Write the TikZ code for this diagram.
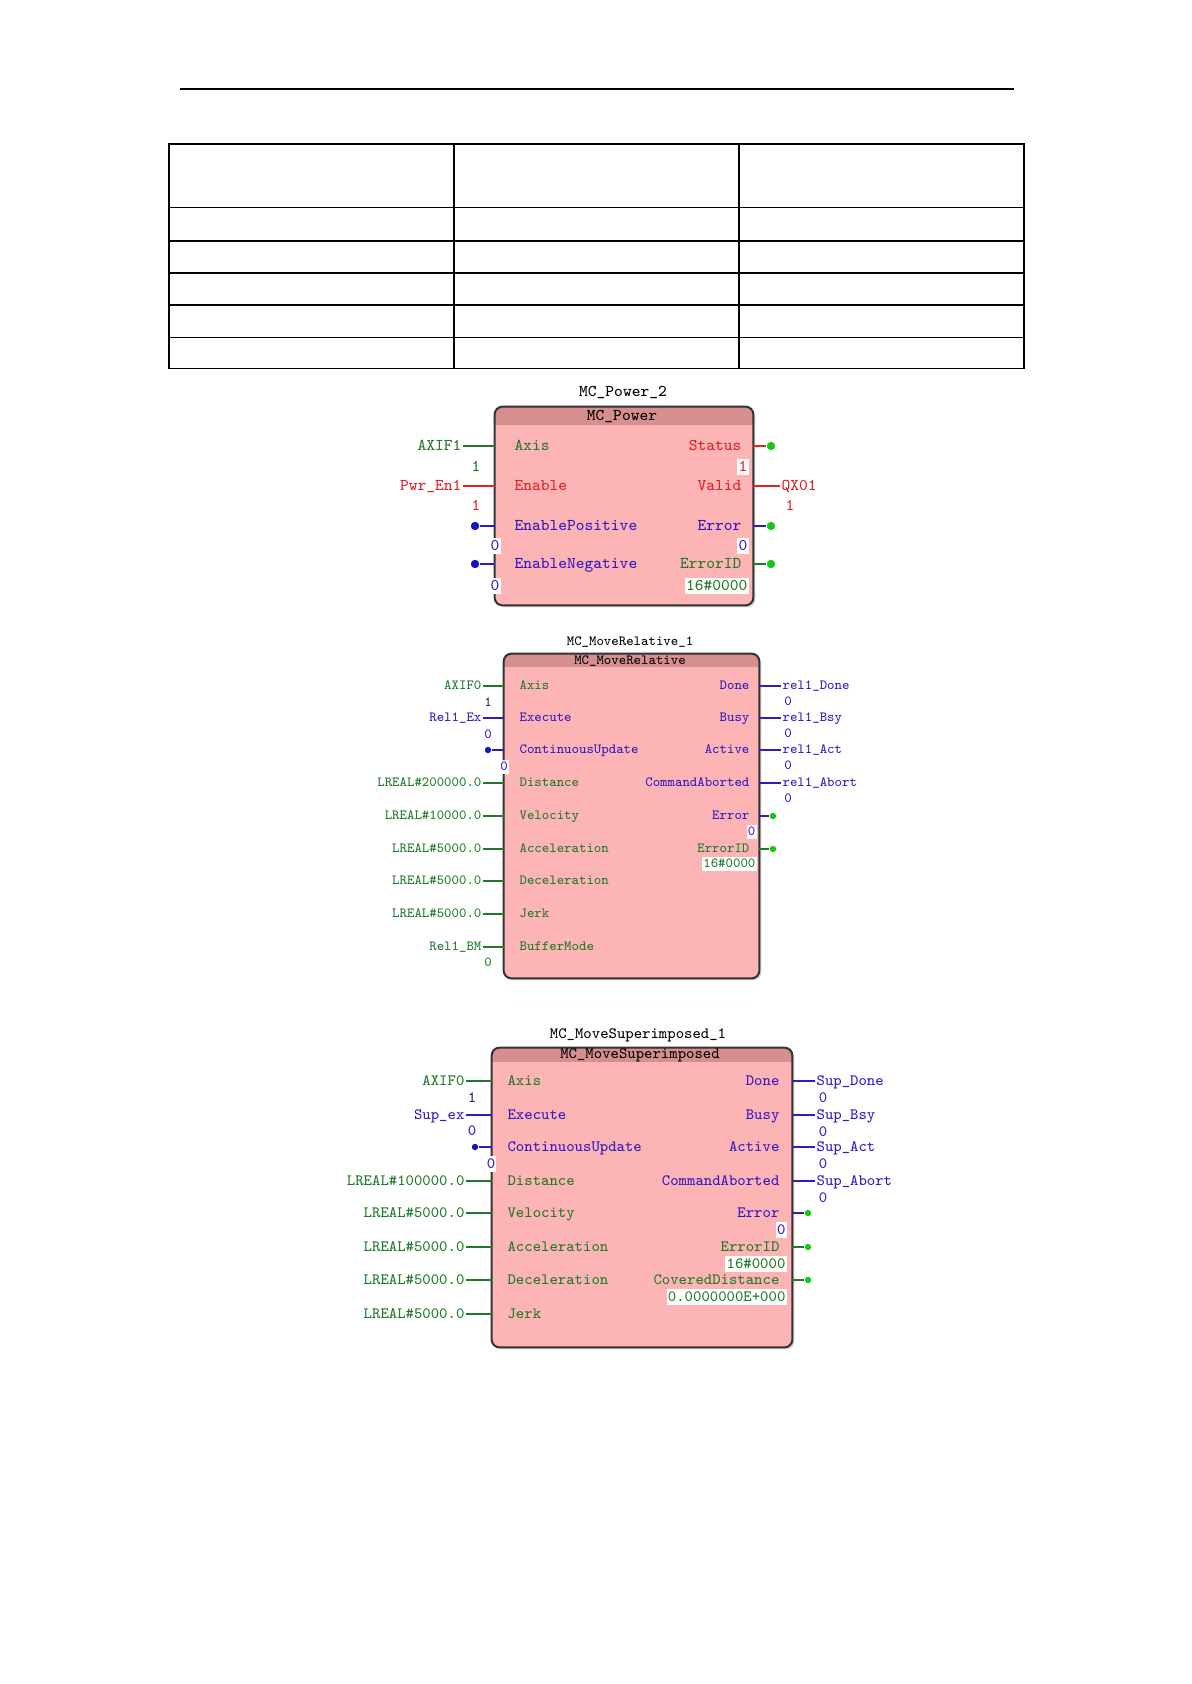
\documentclass[tikz,border=0pt]{standalone}
\usepackage{xcolor}
\usepackage{tikz}
\usetikzlibrary{fit,shadows}

\definecolor{plcpink}{RGB}{252,180,180}
\definecolor{plchead}{RGB}{214,142,142}
\definecolor{plcgreen}{RGB}{32,122,40}
\definecolor{plcred}{RGB}{222,36,40}
\definecolor{plcblue}{RGB}{52,24,196}
\definecolor{plcnavy}{RGB}{40,36,110}
\definecolor{plcdot}{RGB}{20,200,20}
\definecolor{plcbdot}{RGB}{20,20,190}

\newcommand{\pwfont}{\ttfamily\fontsize{8.25}{9}\selectfont}
\newcommand{\mrfont}{\ttfamily\fontsize{7}{8}\selectfont}
\newcommand{\msfont}{\ttfamily\fontsize{7.9}{9}\selectfont}

\tikzset{
    % page parts
    rule/.style={line width=0.8pt},
    tableline/.style={line width=0.8pt},
    % function block styles
    fbbox/.style={rectangle, fill=plcpink, rounded corners=4pt, inner sep=0pt,
        drop shadow={shadow xshift=1.2pt, shadow yshift=-1.2pt, opacity=0.35}},
    fbframe/.style={draw=black!80, line width=1pt, rounded corners=4pt},
    % text styles
    pwtxt/.style={font=\pwfont, inner sep=0.6pt, text height=5.6pt, text depth=1.5pt},
    mrtxt/.style={font=\mrfont, inner sep=0.6pt, text height=4.8pt, text depth=1.3pt},
    mstxt/.style={font=\msfont, inner sep=0.6pt, text height=5.4pt, text depth=1.4pt},
    bgval/.style={fill=white},
    % connectors
    wire/.style={line width=0.55pt},
    gdot/.style={circle, fill=plcdot, inner sep=0pt, minimum size=4.2pt},
    bdot/.style={circle, fill=plcbdot, inner sep=0pt, minimum size=4.2pt},
    gdotsm/.style={circle, fill=plcdot, inner sep=0pt, minimum size=3.2pt},
    bdotsm/.style={circle, fill=plcbdot, inner sep=0pt, minimum size=3.2pt}
}

\begin{document}
\begin{tikzpicture}[x=0.5pt, y=-0.5pt]
\useasboundingbox (0,0) rectangle (1191,1684);

% Page rule and empty table
\draw[rule] (180,89) -- (1014,89);
\draw[tableline] (169,144) rectangle (1024,368.5);
\foreach \y in {207.5,241,273,305,337.5}
    \draw[tableline] (169,\y) -- (1024,\y);
\foreach \x in {454,739}
    \draw[tableline] (\x,144) -- (\x,368.5);

% ---------------- MC_Power ----------------
\node[fbbox, fit={(495,407) (753,605)}] (pw) {};
\begin{scope}
    \clip[rounded corners=4pt] (pw.south west) rectangle (pw.north east);
    \fill[plchead] (pw.north west) rectangle (753,425);
\end{scope}
\draw[fbframe] (pw.south west) rectangle (pw.north east);
\node[pwtxt] (pwname) at (623,392) {MC\_Power\_2};
\node[pwtxt] (pwtype) at (622,416) {MC\_Power};

% pins
\foreach \n/\t/\y/\c in {Axis/Axis/446/plcgreen, En/Enable/486/plcred,
    EnP/EnablePositive/526/plcblue, EnN/EnableNegative/564/plcblue}
    \node[pwtxt, text=\c, anchor=west] (pw\n) at (513,\y) {\t};
\foreach \n/\t/\y/\c in {Stat/Status/446/plcred, Val/Valid/486/plcred,
    Err/Error/526/plcblue, ErrID/ErrorID/564/plcgreen}
    \node[pwtxt, text=\c, anchor=east] (pw\n) at (743,\y) {\t};

% inputs
\node[pwtxt, text=plcgreen, anchor=east] (pwaxif) at (463,446) {AXIF1};
\draw[wire, plcgreen] (pwaxif.east) -- (pwAxis -| pw.west);
\node[pwtxt, text=plcgreen] (pwv1) at (476,467) {1};
\node[pwtxt, text=plcred, anchor=east] (pwen1) at (463,486) {Pwr\_En1};
\draw[wire, plcred] (pwen1.east) -- (pwEn -| pw.west);
\node[pwtxt, text=plcred] (pwv2) at (476,506) {1};
\node[bdot] (pwd1) at (475,526) {};
\draw[wire, plcblue] (pwd1) -- (pwEnP -| pw.west);
\node[pwtxt, bgval, text=plcblue] (pwv3) at (495,546) {0};
\node[bdot] (pwd2) at (475,564) {};
\draw[wire, plcblue] (pwd2) -- (pwEnN -| pw.west);
\node[pwtxt, bgval, text=plcblue] (pwv4) at (495,586) {0};

% outputs
\node[gdot] (pwo1) at (771,446) {};
\draw[wire, plcred] (pwStat -| pw.east) -- (pwo1);
\node[pwtxt, bgval, text=plcred, anchor=east] (pwv5) at (749,467) {1};
\node[pwtxt, text=plcred, anchor=west] (pwqx) at (780,486) {QX01};
\draw[wire, plcred] (pwVal -| pw.east) -- (pwqx.west);
\node[pwtxt, text=plcred] (pwv6) at (790,506) {1};
\node[gdot] (pwo2) at (771,526) {};
\draw[wire, plcblue] (pwErr -| pw.east) -- (pwo2);
\node[pwtxt, bgval, text=plcblue, anchor=east] (pwv7) at (749,546) {0};
\node[gdot] (pwo3) at (771,564) {};
\draw[wire, plcgreen] (pwErrID -| pw.east) -- (pwo3);
\node[pwtxt, bgval, text=plcgreen, anchor=east] (pwv8) at (749,586) {16\#0000};

% ---------------- MC_MoveRelative ----------------
\node[fbbox, fit={(504,654) (759,978)}] (mr) {};
\begin{scope}
    \clip[rounded corners=4pt] (mr.south west) rectangle (mr.north east);
    \fill[plchead] (mr.north west) rectangle (759,667);
\end{scope}
\draw[fbframe] (mr.south west) rectangle (mr.north east);
\node[mrtxt] (mrname) at (630,642) {MC\_MoveRelative\_1};
\node[mrtxt] (mrtype) at (630,661) {MC\_MoveRelative};

% pins with input values
\foreach \n/\t/\y/\c/\v in {Axis/Axis/686/plcgreen/AXIF0, Exe/Execute/718/plcblue/Rel1\_Ex,
    Dist/Distance/783/plcgreen/LREAL\#200000.0, Vel/Velocity/816/plcgreen/LREAL\#10000.0,
    Acc/Acceleration/849/plcgreen/LREAL\#5000.0, Dec/Deceleration/881/plcgreen/LREAL\#5000.0,
    Jerk/Jerk/914/plcgreen/LREAL\#5000.0, Buf/BufferMode/947/plcgreen/Rel1\_BM}
{
    \node[mrtxt, text=\c, anchor=west] (mr\n) at (518,\y) {\t};
    \node[mrtxt, text=\c, anchor=east] (mrin\n) at (483,\y) {\v};
    \draw[wire, \c] (mrin\n.east) -- (mr\n -| mr.west);
}
\node[mrtxt, text=plcblue, anchor=west] (mrCont) at (518,750) {ContinuousUpdate};
\node[bdotsm] (mrd1) at (488,750) {};
\draw[wire, plcblue] (mrd1) -- (mrCont -| mr.west);
\node[mrtxt, text=plcnavy] (mrv1) at (488,703) {1};
\node[mrtxt, text=plcblue] (mrv2) at (488,735) {0};
\node[mrtxt, bgval, text=plcblue] (mrv3) at (504,767) {0};
\node[mrtxt, text=plcgreen] (mrv4) at (488,963) {0};

% outputs
\foreach \n/\t/\y/\v in {Done/Done/686/rel1\_Done, Busy/Busy/718/rel1\_Bsy,
    Act/Active/750/rel1\_Act, Abo/CommandAborted/783/rel1\_Abort}
{
    \node[mrtxt, text=plcblue, anchor=east] (mr\n) at (751,\y) {\t};
    \node[mrtxt, text=plcblue, anchor=west] (mrout\n) at (781,\y) {\v};
    \node[mrtxt, text=plcblue] (mrz\n) at (788,\y+16) {0};
    \draw[wire, plcblue] (mr\n -| mr.east) -- (mrout\n.west);
}
\node[mrtxt, text=plcblue, anchor=east] (mrErr) at (751,816) {Error};
\node[gdotsm] (mro1) at (773,816) {};
\draw[wire, plcblue] (mrErr -| mr.east) -- (mro1);
\node[mrtxt, bgval, text=plcblue, anchor=east] (mrv5) at (757,832) {0};
\node[mrtxt, text=plcgreen, anchor=east] (mrErrID) at (751,849) {ErrorID};
\node[gdotsm] (mro2) at (773,849) {};
\draw[wire, plcgreen] (mrErrID -| mr.east) -- (mro2);
\node[mrtxt, bgval, text=plcgreen, anchor=east] (mrv6) at (757,864) {16\#0000};

% ---------------- MC_MoveSuperimposed ----------------
\node[fbbox, fit={(492,1048) (792,1347)}] (ms) {};
\begin{scope}
    \clip[rounded corners=4pt] (ms.south west) rectangle (ms.north east);
    \fill[plchead] (ms.north west) rectangle (792,1062);
\end{scope}
\draw[fbframe] (ms.south west) rectangle (ms.north east);
\node[mstxt] (msname) at (638,1034) {MC\_MoveSuperimposed\_1};
\node[mstxt] (mstype) at (640,1054) {MC\_MoveSuperimposed};

% pins with input values
\foreach \n/\t/\y/\c/\v in {Axis/Axis/1081/plcgreen/AXIF0, Exe/Execute/1115/plcblue/Sup\_ex,
    Dist/Distance/1181/plcgreen/LREAL\#100000.0, Vel/Velocity/1213/plcgreen/LREAL\#5000.0,
    Acc/Acceleration/1247/plcgreen/LREAL\#5000.0, Dec/Deceleration/1280/plcgreen/LREAL\#5000.0,
    Jerk/Jerk/1314/plcgreen/LREAL\#5000.0}
{
    \node[mstxt, text=\c, anchor=west] (ms\n) at (506,\y) {\t};
    \node[mstxt, text=\c, anchor=east] (msin\n) at (466,\y) {\v};
    \draw[wire, \c] (msin\n.east) -- (ms\n -| ms.west);
}
\node[mstxt, text=plcblue, anchor=west] (msCont) at (506,1147) {ContinuousUpdate};
\node[bdotsm] (msd1) at (475,1147) {};
\draw[wire, plcblue] (msd1) -- (msCont -| ms.west);
\node[mstxt, text=plcnavy] (msv1) at (472,1098) {1};
\node[mstxt, text=plcblue] (msv2) at (472,1131) {0};
\node[mstxt, bgval, text=plcblue] (msv3) at (491,1164) {0};

% outputs
\foreach \n/\t/\y/\v in {Done/Done/1081/Sup\_Done, Busy/Busy/1115/Sup\_Bsy,
    Act/Active/1147/Sup\_Act, Abo/CommandAborted/1181/Sup\_Abort}
{
    \node[mstxt, text=plcblue, anchor=east] (ms\n) at (781,\y) {\t};
    \node[mstxt, text=plcblue, anchor=west] (msout\n) at (815,\y) {\v};
    \node[mstxt, text=plcblue] (msz\n) at (823,\y+17) {0};
    \draw[wire, plcblue] (ms\n -| ms.east) -- (msout\n.west);
}
\foreach \n/\t/\y/\c/\v in {Err/Error/1213/plcblue/0, ErrID/ErrorID/1247/plcgreen/16\#0000,
    Cov/CoveredDistance/1280/plcgreen/0.0000000E+000}
{
    \node[mstxt, text=\c, anchor=east] (ms\n) at (781,\y) {\t};
    \node[gdotsm] (mso\n) at (808,\y) {};
    \draw[wire, \c] (ms\n -| ms.east) -- (mso\n);
    \node[mstxt, bgval, text=\c, anchor=east] (msv\n) at (787,\y+17) {\v};
}
\end{tikzpicture}
\end{document}
